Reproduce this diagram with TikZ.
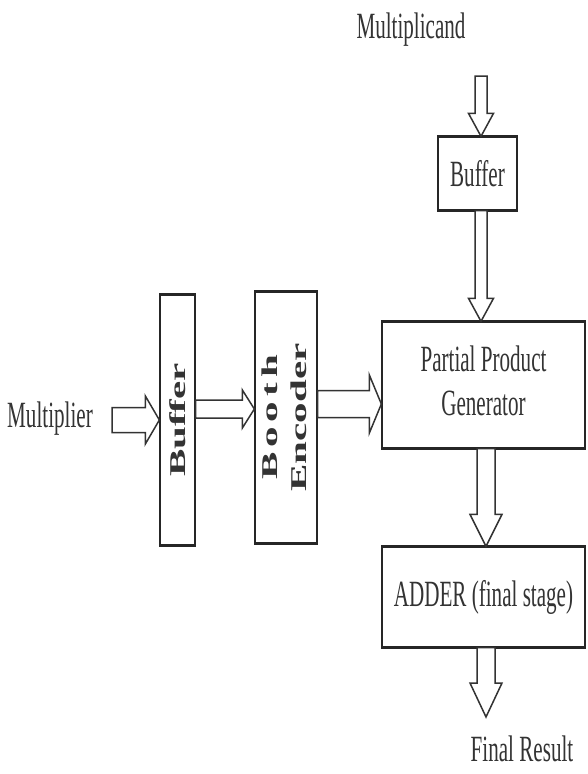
\documentclass[tikz,border=0pt]{standalone}
\usepackage{fontspec}
\setmainfont{Liberation Serif}
\usepackage{graphicx}
\usetikzlibrary{calc}
\newcommand\sqz[1]{\scalebox{0.57}[1]{#1}}
% #1 start, #2 tip, #3 half shaft, #4 half head, #5 head length
\newcommand\hollowdown[5]{%
  \draw[hollow] ($(#1)+(-#3,0)$) -- ($(#2)+(-#3,-#5)$) -- ($(#2)+(-#4,-#5)$) -- (#2)
    -- ($(#2)+(#4,-#5)$) -- ($(#2)+(#3,-#5)$) -- ($(#1)+(#3,0)$) -- cycle;}
\newcommand\hollowright[5]{%
  \draw[hollow] ($(#1)+(0,-#3)$) -- ($(#2)+(-#5,-#3)$) -- ($(#2)+(-#5,-#4)$) -- (#2)
    -- ($(#2)+(-#5,#4)$) -- ($(#2)+(-#5,#3)$) -- ($(#1)+(0,#3)$) -- cycle;}
\begin{document}
\begin{tikzpicture}[x=1pt,y=-1pt,
  box/.style={draw=black!85, line width=1.3pt, inner sep=0pt, fill=white},
  hedge/.style={draw=black!85, line width=2.6pt},
  hollow/.style={draw=black!80, line width=1.5pt, fill=white, line join=miter},
  lbl/.style={inner sep=0pt, text=black!80, font=\fontsize{37}{44}\selectfont},
  vlbl/.style={inner sep=0pt, text=black!80, font=\fontsize{41}{53}\selectfont\bfseries}]
\useasboundingbox (0,0) rectangle (587,774);

% labels
\node[lbl] (mcand) at (411,30) {\sqz{Multiplicand}};
\node[lbl] (mult) at (50,419) {\sqz{Multiplier}};
\node[lbl] (res) at (522,749) {\sqz{Final Result}};

% boxes
\node[box, lbl, minimum width=79pt, minimum height=73pt] (buf1) at (477.5,173.5) {\sqz{Buffer}};
\node[box, lbl, minimum width=203pt, minimum height=126pt] (ppg) at (483.5,385)
  {\sqz{\begin{tabular}{@{}c@{}}Partial Product\\Generator\end{tabular}}};
\node[box, lbl, minimum width=203pt, minimum height=100pt] (adder) at (483.5,597)
  {\raisebox{4pt}{\sqz{ADDER (final stage)}}};
\node[box, vlbl, minimum width=35pt, minimum height=250pt] (buf2) at (177.5,420)
  {\rotatebox{90}{\scalebox{1}[0.55]{Buffer}}};
\node[box, vlbl, minimum width=62pt, minimum height=251pt] (booth) at (286,417.5)
  {\rotatebox{90}{\scalebox{1}[0.55]{\begin{tabular}{@{}c@{}}B\kern5pt o\kern5pt o\kern5pt t\kern5pt h\\Encoder\end{tabular}}}};

\foreach \n in {buf1,ppg,adder,buf2,booth}{
  \draw[hedge] (\n.north west) -- (\n.north east);
  \draw[hedge] (\n.south west) -- (\n.south east);
}

% connectors
\coordinate (mcin) at (481,76);
\hollowdown{mcin}{mcin |- buf1.north}{6}{12.5}{23}
\hollowdown{mcin |- buf1.south}{mcin |- ppg.north}{6}{12.5}{23}

\coordinate (vx) at (486,0);
\hollowdown{vx |- ppg.south}{vx |- adder.north}{9}{16}{32}
\coordinate (outtip) at (486,717);
\hollowdown{vx |- adder.south}{outtip}{9}{16}{34}

\coordinate (minS) at (112,420);
\hollowright{minS}{buf2.west}{12.5}{24}{14}
\coordinate (b2s) at ($(buf2.east)+(0,-11)$);
\hollowright{b2s}{booth.west |- b2s}{9}{19}{12}
\coordinate (bes) at ($(booth.east)+(0,-13.5)$);
\hollowright{bes}{ppg.west |- bes}{13.5}{29}{12}
\end{tikzpicture}
\end{document}
